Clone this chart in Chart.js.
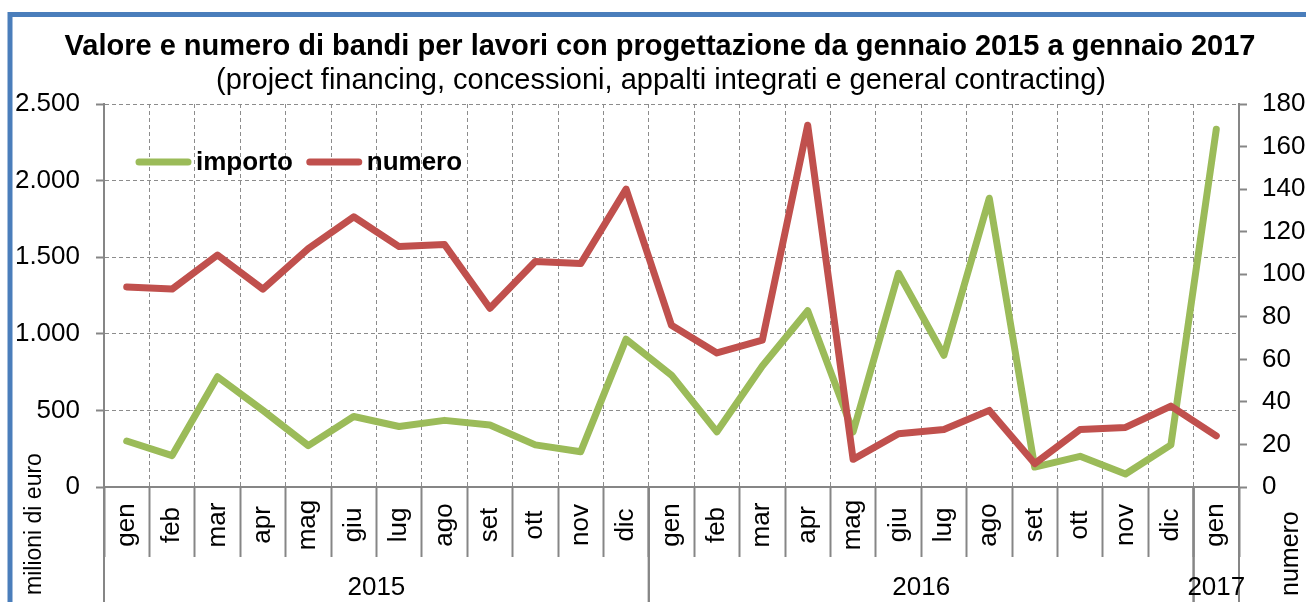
<!DOCTYPE html>
<html lang="it">
<head>
<meta charset="utf-8">
<title>Valore e numero di bandi per lavori con progettazione</title>
<script src="https://cdn.jsdelivr.net/npm/chart.js@4/dist/chart.umd.min.js"></script>
<style>
  html, body { margin: 0; padding: 0; background: #fff; }
  canvas { display: block; }
</style>
</head>
<body>
<canvas id="grafico" width="1306" height="602"></canvas>
<script>
// ==================== Dati ====================
const TITOLO = 'Valore e numero di bandi per lavori con progettazione da gennaio 2015 a gennaio 2017';
const SOTTOTITOLO = '(project financing, concessioni, appalti integrati e general contracting)';

const mesi = ['gen','feb','mar','apr','mag','giu','lug','ago','set','ott','nov','dic',
              'gen','feb','mar','apr','mag','giu','lug','ago','set','ott','nov','dic',
              'gen'];
const anni = ['2015', '2016', '2017'];
const mesiPerAnno = [12, 12, 1];

// milioni di euro (asse sinistro)
const importo = [300, 205, 720, 500, 270, 460, 395, 435, 405, 275, 230, 965,
                 730, 360, 790, 1150, 360, 1395, 860, 1885, 130, 200, 85, 275,
                 2335];
// numero di bandi (asse destro)
const numero = [94, 93, 109, 93, 112, 127, 113, 114, 84, 106, 105, 140,
                76, 63, 69, 170, 13, 25, 27, 36, 11, 27, 28, 38,
                24];

const asseSxMax = 2500, asseSxPasso = 500;
const asseDxMax = 180, asseDxPasso = 20;

const FONT = '"Liberation Sans", Arial, sans-serif';
const VERDE = '#9bbb59';
const ROSSO = '#c0504d';
const GRIGIO = '#868686';

function formatMigliaia(v) {
  return String(v).replace(/\B(?=(\d{3})+(?!\d))/g, '.');
}

// ==================== Plugin decorazioni ====================
const decorazioni = {
  id: 'decorazioni',
  beforeDraw(chart) {
    const ctx = chart.ctx;
    ctx.save();
    ctx.fillStyle = '#fff';
    ctx.fillRect(0, 0, chart.width, chart.height);
    ctx.restore();
  },
  afterDraw(chart) {
    const { ctx, chartArea: area, scales: { x } } = chart;
    ctx.save();

    // cornice blu
    ctx.strokeStyle = '#4a7ebb';
    ctx.lineWidth = 5;
    ctx.strokeRect(10, 14.5, chart.width + 20, chart.height + 20);

    // titolo e sottotitolo
    ctx.fillStyle = '#000';
    ctx.textAlign = 'center';
    ctx.textBaseline = 'alphabetic';
    ctx.font = 'bold 29px ' + FONT;
    ctx.fillText(TITOLO, 660, 55);
    ctx.font = '29px ' + FONT;
    ctx.fillText(SOTTOTITOLO, 661, 89);

    // etichette mesi (ruotate)
    ctx.font = '26px ' + FONT;
    mesi.forEach((m, i) => {
      const px = x.getPixelForValue(i);
      ctx.save();
      ctx.translate(px, 525);
      ctx.rotate(-Math.PI / 2);
      ctx.textAlign = 'center';
      ctx.textBaseline = 'middle';
      ctx.fillText(m, 0, 0);
      ctx.restore();
    });

    // separatori e etichette anni
    const half = (x.getPixelForValue(1) - x.getPixelForValue(0)) / 2;
    ctx.strokeStyle = GRIGIO;
    ctx.lineWidth = 2;
    ctx.textAlign = 'center';
    ctx.textBaseline = 'middle';
    let start = 0;
    anni.forEach((a, k) => {
      const end = start + mesiPerAnno[k] - 1;
      const x0 = x.getPixelForValue(start) - half;
      const x1 = x.getPixelForValue(end) + half;
      [x0, x1].forEach(xx => {
        ctx.beginPath();
        ctx.moveTo(xx, area.bottom);
        ctx.lineTo(xx, chart.height);
        ctx.stroke();
      });
      ctx.fillText(a, (x.getPixelForValue(start) + x.getPixelForValue(end)) / 2, 588);
      start = end + 1;
    });

    // titoli assi
    ctx.textAlign = 'left';
    ctx.textBaseline = 'alphabetic';
    ctx.font = '23px ' + FONT;
    ctx.save();
    ctx.translate(41, 595);
    ctx.rotate(-Math.PI / 2);
    ctx.fillText('milioni di euro', 0, 0);
    ctx.restore();
    ctx.font = '25px ' + FONT;
    ctx.save();
    ctx.translate(1298, 596);
    ctx.rotate(-Math.PI / 2);
    ctx.fillText('numero', 0, 0);
    ctx.restore();

    // legenda
    ctx.font = 'bold 26px ' + FONT;
    ctx.lineCap = 'round';
    ctx.lineWidth = 7;
    let lx = 139;
    chart.data.datasets.forEach(ds => {
      ctx.strokeStyle = ds.borderColor;
      ctx.beginPath();
      ctx.moveTo(lx, 162);
      ctx.lineTo(lx + 49, 162);
      ctx.stroke();
      ctx.fillStyle = '#000';
      ctx.fillText(ds.label, lx + 57, 170);
      lx += 57 + ctx.measureText(ds.label).width + 17;
    });

    ctx.restore();
  }
};

// ==================== Grafico ====================
Chart.defaults.font.family = FONT;
Chart.defaults.color = '#000';

new Chart(document.getElementById('grafico'), {
  type: 'line',
  data: {
    labels: mesi,
    datasets: [
      { label: 'importo', data: importo, yAxisID: 'y', borderColor: VERDE, backgroundColor: VERDE, order: 1 },
      { label: 'numero', data: numero, yAxisID: 'y1', borderColor: ROSSO, backgroundColor: ROSSO, order: 0 }
    ]
  },
  options: {
    responsive: false,
    animation: false,
    layout: { padding: { top: 104, left: 0, right: 0, bottom: 0 } },
    plugins: { legend: { display: false }, title: { display: false }, tooltip: { enabled: false } },
    elements: {
      point: { radius: 0, hoverRadius: 0 },
      line: { borderWidth: 7, tension: 0, borderCapStyle: 'round', borderJoinStyle: 'round' }
    },
    scales: {
      x: {
        offset: true,
        ticks: { display: false },
        grid: { offset: true, color: '#8c8c8c', lineWidth: 1, tickLength: 70, tickColor: GRIGIO, tickWidth: 2, tickBorderDash: [] },
        border: { dash: [4, 3], color: GRIGIO, width: 2 },
        afterFit: s => { s.height = 115; }
      },
      y: {
        position: 'left',
        min: 0, max: asseSxMax,
        ticks: { stepSize: asseSxPasso, font: { size: 26 }, color: '#000', padding: 16, callback: v => formatMigliaia(v) },
        grid: { color: '#8c8c8c', lineWidth: 1, tickLength: 8, tickColor: GRIGIO, tickWidth: 2, tickBorderDash: [] },
        border: { dash: [4, 3], color: GRIGIO, width: 2 },
        afterFit: s => { s.width = 104; }
      },
      y1: {
        position: 'right',
        min: 0, max: asseDxMax,
        ticks: { stepSize: asseDxPasso, font: { size: 26 }, color: '#000', padding: 15 },
        grid: { drawOnChartArea: false, tickLength: 8, tickColor: GRIGIO, tickWidth: 2, tickBorderDash: [] },
        border: { color: GRIGIO, width: 2 },
        afterFit: s => { s.width = 67; }
      }
    }
  },
  plugins: [decorazioni]
});
</script>
</body>
</html>
